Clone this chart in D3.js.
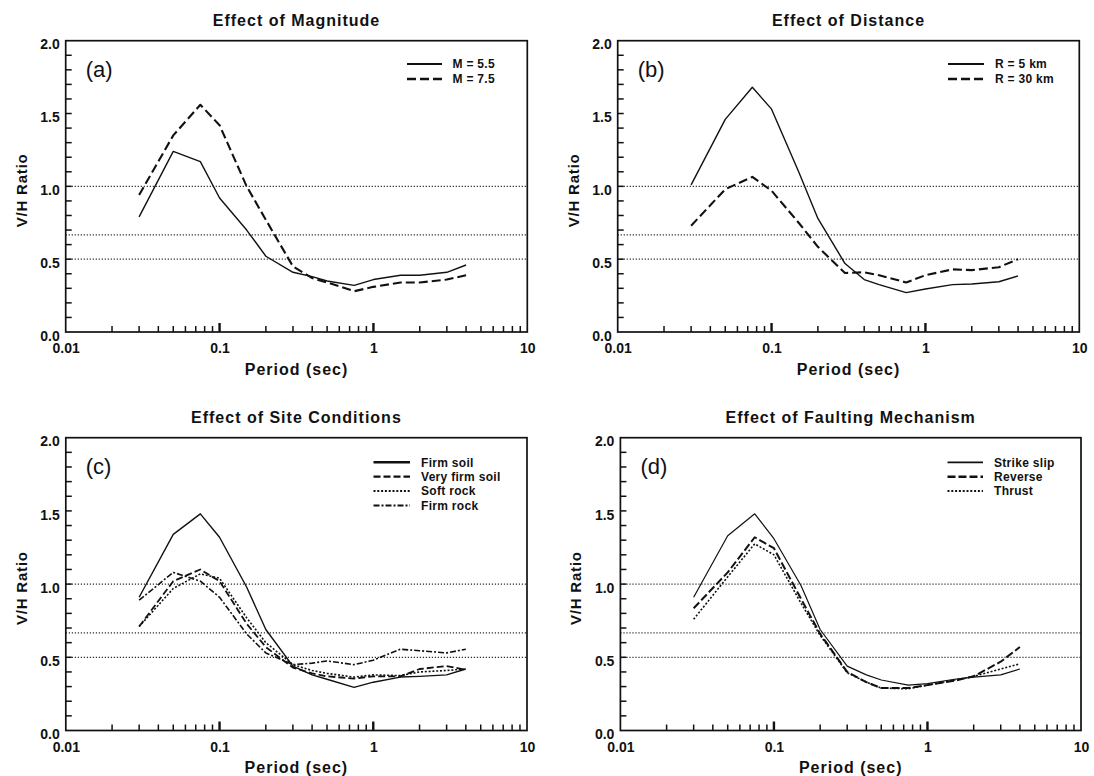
<!DOCTYPE html>
<html>
<head>
<meta charset="utf-8">
<script src="https://cdn.jsdelivr.net/npm/d3@7"></script>
<style>
  html, body { margin: 0; padding: 0; background: #fff; }
  svg { display: block; font-family: "Liberation Sans", Arial, sans-serif; }
</style>
</head>
<body>
<svg id="chart" width="1094" height="776"></svg>
<script>
// ---------------- DATA ----------------
const periods = [0.03, 0.05, 0.075, 0.1, 0.15, 0.2, 0.3, 0.4, 0.5, 0.75, 1, 1.5, 2, 3, 4];

// (a) Effect of Magnitude
const magM55 = [0.79, 1.24, 1.17, 0.92, 0.70, 0.52, 0.41, 0.38, 0.35, 0.32, 0.36, 0.39, 0.39, 0.41, 0.46];
const magM75 = [0.94, 1.35, 1.56, 1.42, 1.00, 0.77, 0.45, 0.37, 0.34, 0.28, 0.31, 0.34, 0.34, 0.36, 0.39];

// (b) Effect of Distance
const distR5  = [1.01, 1.46, 1.68, 1.53, 1.10, 0.78, 0.47, 0.36, 0.325, 0.27, 0.295, 0.325, 0.33, 0.345, 0.385];
const distR30 = [0.73, 0.98, 1.065, 0.97, 0.75, 0.585, 0.405, 0.41, 0.39, 0.34, 0.39, 0.43, 0.425, 0.445, 0.50];

// (c) Effect of Site Conditions
const siteFirmSoil     = [0.91, 1.34, 1.48, 1.32, 0.98, 0.69, 0.44, 0.38, 0.35, 0.295, 0.33, 0.365, 0.37, 0.38, 0.42];
const siteVeryFirmSoil = [0.71, 1.02, 1.10, 1.02, 0.73, 0.57, 0.43, 0.39, 0.37, 0.355, 0.37, 0.37, 0.42, 0.44, 0.415];
const siteSoftRock     = [0.71, 0.97, 1.07, 1.04, 0.77, 0.60, 0.45, 0.41, 0.39, 0.365, 0.38, 0.375, 0.40, 0.41, 0.42];
const siteFirmRock     = [0.89, 1.08, 1.02, 0.91, 0.66, 0.53, 0.45, 0.46, 0.475, 0.45, 0.48, 0.555, 0.545, 0.53, 0.555];

// (d) Effect of Faulting Mechanism
const faultStrikeSlip = [0.91, 1.33, 1.48, 1.31, 0.99, 0.69, 0.44, 0.38, 0.345, 0.31, 0.32, 0.35, 0.365, 0.38, 0.42];
const faultReverse    = [0.835, 1.08, 1.32, 1.245, 0.90, 0.66, 0.40, 0.33, 0.29, 0.29, 0.31, 0.34, 0.37, 0.47, 0.57];
const faultThrust     = [0.76, 1.05, 1.275, 1.20, 0.87, 0.65, 0.395, 0.33, 0.29, 0.285, 0.31, 0.345, 0.37, 0.42, 0.455];

const yTickValues = [0, 0.5, 1.0, 1.5, 2.0];
const yMinorTicks = [0.1, 0.2, 0.3, 0.4, 0.5, 0.6, 0.7, 0.8, 0.9, 1.0, 1.1, 1.2, 1.3, 1.4, 1.5, 1.6, 1.7, 1.8, 1.9];
const xTickValues = [0.01, 0.1, 1, 10];
const xTickLabels = ["0.01", "0.1", "1", "10"];
const xMinorTicks = [0.02, 0.03, 0.04, 0.05, 0.06, 0.07, 0.08, 0.09,
                     0.2, 0.3, 0.4, 0.5, 0.6, 0.7, 0.8, 0.9,
                     2, 3, 4, 5, 6, 7, 8, 9];
const xMajorTicks = [0.1, 1];
const refLineValues = [1.0, 0.667, 0.5];

const titles = ["Effect of Magnitude", "Effect of Distance", "Effect of Site Conditions", "Effect of Faulting Mechanism"];
const panelLabels = ["(a)", "(b)", "(c)", "(d)"];
const xTitle = "Period (sec)";
const yTitle = "V/H Ratio";

const legendA = ["M = 5.5", "M = 7.5"];
const legendB = ["R = 5 km", "R = 30 km"];
const legendC = ["Firm soil", "Very firm soil", "Soft rock", "Firm rock"];
const legendD = ["Strike slip", "Reverse", "Thrust"];

// ---------------- STYLES ----------------
const S_SOLID = { dash: null, width: 1.4 };
const S_DASH_HEAVY = { dash: "9,4", width: 2.1 };
const S_DASH_MED = { dash: "7,3", width: 1.8 };
const S_DOT = { dash: "2,1.8", width: 1.6 };
const S_DASHDOT = { dash: "6,2,2,2", width: 1.6 };

const panels = [
  { box: [65.7, 527.3, 40.7, 332], title: titles[0], label: panelLabels[0],
    series: [[magM55, S_SOLID], [magM75, S_DASH_HEAVY]], legend: legendA,
    leg: { x1: 407, x2: 442, tx: 452.5, ys: [64, 79] } },
  { box: [617.7, 1079.3, 40.7, 332], title: titles[1], label: panelLabels[1],
    series: [[distR5, S_SOLID], [distR30, S_DASH_HEAVY]], legend: legendB,
    leg: { x1: 948, x2: 984, tx: 995, ys: [64, 79] } },
  { box: [65.8, 527, 437.7, 730.5], title: titles[2], label: panelLabels[2],
    series: [[siteFirmSoil, S_SOLID], [siteVeryFirmSoil, S_DASH_MED], [siteSoftRock, S_DOT], [siteFirmRock, S_DASHDOT]],
    legend: legendC, leg: { x1: 373.5, x2: 410, tx: 421, ys: [462.3, 476.7, 490.9, 505.5] }, legSolidW: 2.6 },
  { box: [620.4, 1081, 437.7, 730.5], title: titles[3], label: panelLabels[3],
    series: [[faultStrikeSlip, { dash: null, width: 1.2 }], [faultReverse, { dash: "8,3", width: 2.0 }], [faultThrust, S_DOT]],
    legend: legendD, leg: { x1: 947.5, x2: 983, tx: 994, ys: [462.3, 476.7, 490.9] } }
];

const svg = d3.select("#chart");
const INK = "#111";

function drawPanel(p) {
  const [x0, x1, y0, y1] = p.box;
  const x = d3.scaleLog().domain([0.01, 10]).range([x0, x1]);
  const y = d3.scaleLinear().domain([0, 2]).range([y1, y0]);
  const g = svg.append("g");

  // reference dotted lines
  g.append("g").selectAll("line").data(refLineValues).join("line")
    .attr("x1", x0).attr("x2", x1)
    .attr("y1", d => y(d)).attr("y2", d => y(d))
    .attr("stroke", "#2a2a2a").attr("stroke-width", 1.2)
    .attr("stroke-dasharray", "1.2,1.8");

  // frame
  g.append("rect").attr("x", x0).attr("y", y0).attr("width", x1 - x0).attr("height", y1 - y0)
    .attr("fill", "none").attr("stroke", INK).attr("stroke-width", 1.7);

  // minor y ticks (inside the frame)
  g.append("g").selectAll("line").data(yMinorTicks).join("line")
    .attr("x1", x0).attr("x2", x0 + 6)
    .attr("y1", d => y(d)).attr("y2", d => y(d))
    .attr("stroke", INK).attr("stroke-width", 1.5);

  // minor / major x ticks (inside the frame)
  g.append("g").selectAll("line").data(xMinorTicks).join("line")
    .attr("x1", d => x(d)).attr("x2", d => x(d))
    .attr("y1", y1).attr("y2", y1 - 6)
    .attr("stroke", INK).attr("stroke-width", 1.5);
  g.append("g").selectAll("line").data(xMajorTicks).join("line")
    .attr("x1", d => x(d)).attr("x2", d => x(d))
    .attr("y1", y1).attr("y2", y1 - 9)
    .attr("stroke", INK).attr("stroke-width", 2.4);

  // y labels
  g.append("g").attr("transform", `translate(${x0},0)`)
    .call(d3.axisLeft(y).tickValues(yTickValues).tickSize(0).tickPadding(6).tickFormat(d3.format(".1f")))
    .call(s => s.select(".domain").remove())
    .call(s => s.selectAll("text").attr("dy", "0.58em")
      .attr("font-size", 14).attr("font-weight", "bold").attr("fill", INK)
      .attr("font-family", '"Liberation Sans", Arial, sans-serif'));

  // x labels
  g.append("g").attr("transform", `translate(0,${y1})`)
    .call(d3.axisBottom(x).tickValues(xTickValues).tickSize(0).tickPadding(11.5)
      .tickFormat((d, i) => xTickLabels[i]))
    .call(s => s.select(".domain").remove())
    .call(s => s.selectAll("text")
      .attr("font-size", 14).attr("font-weight", "bold").attr("fill", INK)
      .attr("font-family", '"Liberation Sans", Arial, sans-serif'));

  // series
  const line = d3.line().x(d => x(d[0])).y(d => y(d[1]));
  p.series.forEach(([vals, st]) => {
    g.append("path")
      .datum(periods.map((t, i) => [t, vals[i]]))
      .attr("d", line)
      .attr("fill", "none").attr("stroke", INK)
      .attr("stroke-width", st.width)
      .attr("stroke-dasharray", st.dash)
      .attr("stroke-linejoin", "round");
  });

  // legend
  p.legend.forEach((name, i) => {
    const st = p.series[i][1];
    const ly = p.leg.ys[i];
    g.append("line").attr("x1", p.leg.x1).attr("x2", p.leg.x2).attr("y1", ly).attr("y2", ly)
      .attr("stroke", INK)
      .attr("stroke-width", st.dash ? st.width + 0.4 : (p.legSolidW || st.width + 0.6))
      .attr("stroke-dasharray", st.dash);
    g.append("text").attr("x", p.leg.tx).attr("y", ly + 4.3)
      .attr("font-size", 12).attr("font-weight", "bold").attr("letter-spacing", 0.3)
      .attr("fill", INK).text(name);
  });

  // panel label
  g.append("text").attr("x", x0 + 20).attr("y", y0 + 36)
    .attr("font-size", 22).attr("fill", INK).text(p.label);

  // title
  g.append("text").attr("x", (x0 + x1) / 2).attr("y", y0 - 15)
    .attr("text-anchor", "middle").attr("font-size", 16).attr("font-weight", "bold")
    .attr("letter-spacing", 1).attr("fill", INK).text(p.title);

  // x title
  g.append("text").attr("x", (x0 + x1) / 2).attr("y", y1 + 42.5)
    .attr("text-anchor", "middle").attr("font-size", 16).attr("font-weight", "bold")
    .attr("letter-spacing", 1).attr("fill", INK).text(xTitle);

  // y title
  const cy = (y0 + y1) / 2 + 4;
  g.append("text").attr("transform", `translate(${x0 - 39},${cy}) rotate(-90)`)
    .attr("text-anchor", "middle").attr("font-size", 15).attr("font-weight", "bold")
    .attr("letter-spacing", 0.8).attr("fill", INK).text(yTitle);
}

panels.forEach(drawPanel);
</script>
</body>
</html>
